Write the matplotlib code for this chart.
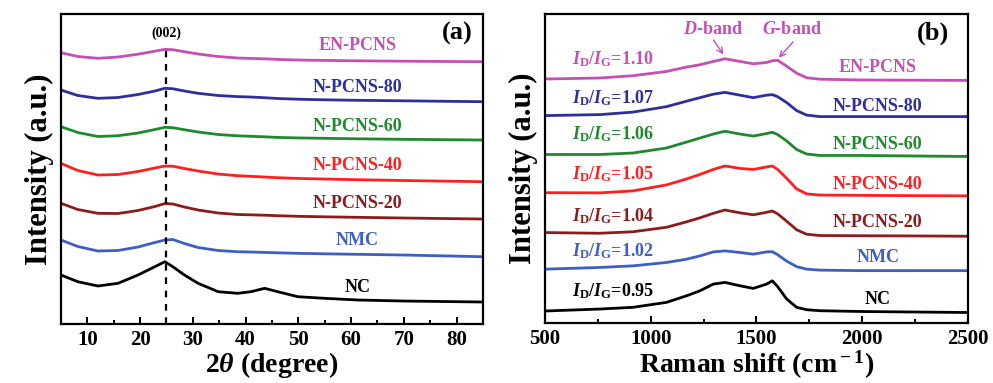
import matplotlib
matplotlib.use("Agg")
import matplotlib.pyplot as plt
from matplotlib.ticker import MultipleLocator

plt.rcParams["font.family"] = ["Liberation Serif", "DejaVu Serif"]
plt.rcParams["font.weight"] = "bold"
plt.rcParams["axes.labelweight"] = "bold"
plt.rcParams["mathtext.fontset"] = "custom"
plt.rcParams["mathtext.rm"] = "Liberation Serif:bold"
plt.rcParams["mathtext.it"] = "Liberation Serif:italic:bold"
plt.rcParams["mathtext.bf"] = "Liberation Serif:bold"

# ── sample names and colours (top → bottom) ──────────────────────────────────
samples = ["EN-PCNS", "N-PCNS-80", "N-PCNS-60", "N-PCNS-40", "N-PCNS-20", "NMC", "NC"]
colors = ["#C54FB5", "#2E2E9C", "#1F8A2D", "#FF1F1F", "#8C1C1C", "#3E5EC6", "#000000"]
id_ig = ["1.10", "1.07", "1.06", "1.05", "1.04", "1.02", "0.95"]

# ── XRD, stacked intensity (a.u.) ────────────────────────────────────────────
two_theta = [5, 8.2, 12, 15.8, 19.6, 22.8, 24.7, 26.2, 28.4, 31, 34.8, 38.5, 41,
             43.6, 46.1, 49.9, 55, 61.3, 70, 85]
xrd = {
    "EN-PCNS":   [271.3, 267.5, 265.7, 267, 269.8, 272.8, 274.7, 274.3, 272.3, 270,
                  267.5, 266, 265.6, 265.2, 264.6, 264, 263.6, 263.2, 262.8, 262.3],
    "N-PCNS-80": [234, 228.5, 225.7, 226.5, 229.5, 233, 235.7, 235.3, 233, 230.7,
                  228.5, 227.4, 227, 226.3, 225.5, 224.8, 224.2, 223.7, 223.2, 222.3],
    "N-PCNS-60": [197.3, 191.5, 187.5, 188.3, 191, 194.5, 196.7, 196.3, 194.3, 192,
                  189.5, 188.2, 187.7, 187.2, 186.6, 186.1, 185.7, 185.2, 184.7, 184],
    "N-PCNS-40": [160.7, 153.5, 149, 149.5, 152.5, 156, 158, 157.8, 155.5, 153,
                  150, 148.3, 147.7, 147, 146.3, 145.6, 145, 144.3, 143.5, 142.3],
    "N-PCNS-20": [120.7, 114.5, 110.7, 110.5, 113.5, 117.5, 120.5, 120, 117, 114,
                  111, 109.5, 109.2, 108.8, 108.3, 107.7, 107.2, 106.7, 106, 105],
    "NMC":       [84, 77.5, 73, 73.5, 77, 81.5, 84, 84.5, 80.5, 76.5,
                  73.5, 72.3, 72, 71.6, 71.2, 70.7, 70.2, 69.7, 69, 67.3],
    "NC":        [49, 42.3, 38, 40.7, 49, 57.3, 62.3, 57.3, 49, 40.7,
                  32.3, 30.7, 32.3, 35.7, 32.3, 27.3, 25.7, 24, 23, 22],
}
xrd_label_y = [279, 237, 198, 159, 121, 84, 37]
xrd_ticks = [10, 20, 30, 40, 50, 60, 70, 80]

# ── Raman, stacked intensity (a.u.) ──────────────────────────────────────────
raman_shift = [500, 760, 916, 1075, 1170, 1233, 1296, 1351, 1422, 1485,
               1548, 1575, 1600, 1643, 1690, 1737, 1800, 2000, 2250, 2500]
raman = {
    "EN-PCNS":   [244.7, 245.7, 248, 252.3, 256.7, 259, 262.3, 265, 262.3, 260,
                  261.3, 263, 263.5, 257.5, 250.5, 246, 244.5, 243.7, 243.5, 243.3],
    "N-PCNS-80": [208, 209, 211.5, 217, 222.5, 226, 229.5, 231.3, 228.5, 226,
                  228.5, 229, 227, 221, 213, 208.5, 207, 207, 207, 207],
    "N-PCNS-60": [169, 169, 170.5, 175.5, 181.5, 185.5, 189.5, 192.3, 189.5, 187.5,
                  190, 191.3, 189, 182.5, 174, 169.5, 168, 168, 167.5, 167],
    "N-PCNS-40": [130.7, 130.5, 132.5, 138.5, 144.5, 149, 154, 157.5, 155, 154,
                  156.5, 157.5, 154, 145, 134.5, 129.5, 128.3, 128, 127.7, 127.5],
    "N-PCNS-20": [90.7, 90, 91.5, 96, 101.5, 105.5, 110, 113.3, 110.5, 108.5,
                  111, 112.3, 109.5, 102, 93.5, 89, 87.7, 87.5, 87.3, 87],
    "NMC":       [54, 55.7, 57.3, 60.7, 64, 67.3, 71.3, 72.3, 70.7, 69,
                  71.3, 71.5, 68.5, 62, 56.5, 54, 53, 52.5, 52.5, 52.5],
    "NC":        [12, 14, 15.7, 20.7, 27.3, 32.3, 39, 40.7, 37.3, 34.7,
                  39, 42.3, 36.5, 24, 15.7, 13.3, 12.3, 11.5, 11, 10.5],
}
raman_name_y = [256, 217, 179, 139, 101, 66, 24]
raman_ratio_y = [259, 220, 184, 144, 102.3, 67.3, 26.7]
raman_ticks = [500, 1000, 1500, 2000, 2500]

fig = plt.figure(figsize=(9.93, 3.83), dpi=100)
ax1 = fig.add_axes([0.0614, 0.154, 0.425, 0.8094])
ax2 = fig.add_axes([0.5488, 0.1567, 0.426, 0.807])

for ax in (ax1, ax2):
    for sp in ax.spines.values():
        sp.set_linewidth(1.6)
    ax.tick_params(axis="x", which="both", direction="in", top=False, labelsize=15, pad=4, width=1.4)
    ax.tick_params(axis="x", which="major", length=5)
    ax.tick_params(axis="x", which="minor", length=3)
    ax.set_yticks([])
    ax.set_ylim(0, 310)
    ax.set_ylabel("Intensity (a.u.)", fontsize=22, fontweight="bold", labelpad=5)

# (a) XRD
for name, c in zip(samples, colors):
    ax1.plot(two_theta, xrd[name], color=c, lw=2.0)
for name, c, y in zip(samples, colors, xrd_label_y):
    ax1.text(61.2, y, name, color=c, fontsize=13, ha="center", va="center")
ax1.plot([25, 25], [0, 277], color="black", ls=(0, (3, 3)), lw=1.6)
ax1.text(25, 291, "(002)", fontsize=10, ha="center", va="center")
ax1.text(80.2, 291, "(a)", fontsize=19, ha="center", va="center")
ax1.set_xlim(5, 85)
ax1.xaxis.set_minor_locator(MultipleLocator(5))
ax1.set_xticks(xrd_ticks, [str(t) for t in xrd_ticks], fontweight="bold")
ax1.set_xlabel(r"2$\theta$ (degree)", fontsize=20, labelpad=0)

# (b) Raman
for name, c in zip(samples, colors):
    ax2.plot(raman_shift, raman[name], color=c, lw=2.0)
for name, c, y in zip(samples, colors, raman_name_y):
    ax2.text(2074, y, name, color=c, fontsize=13, ha="center", va="center")
for r, c, y in zip(id_ig, colors, raman_ratio_y):
    ax2.text(628, y, r"$I_{\rm D}/I_{\rm G}$=" + r, color=c, fontsize=13,
             ha="left", va="baseline")
band_c = colors[0]
ax2.text(1294, 294, r"$D$-band", color=band_c, fontsize=13, ha="center", va="center")
ax2.text(1668, 294, r"$G$-band", color=band_c, fontsize=13, ha="center", va="center")
ax2.annotate("", xy=(1351, 267), xytext=(1290, 286),
             arrowprops=dict(arrowstyle="->", color=band_c, lw=1.0))
ax2.annotate("", xy=(1597, 264), xytext=(1682, 284),
             arrowprops=dict(arrowstyle="->", color=band_c, lw=1.0))
ax2.text(2334, 291, "(b)", fontsize=19, ha="center", va="center")
ax2.set_xlim(500, 2500)
ax2.xaxis.set_minor_locator(MultipleLocator(250))
ax2.set_xticks(raman_ticks, [str(t) for t in raman_ticks], fontweight="bold")
ax2.set_xlabel(r"Raman shift (cm$^{\rm -1}$)", fontsize=20, labelpad=0)

fig.savefig("out.png", dpi=100)
